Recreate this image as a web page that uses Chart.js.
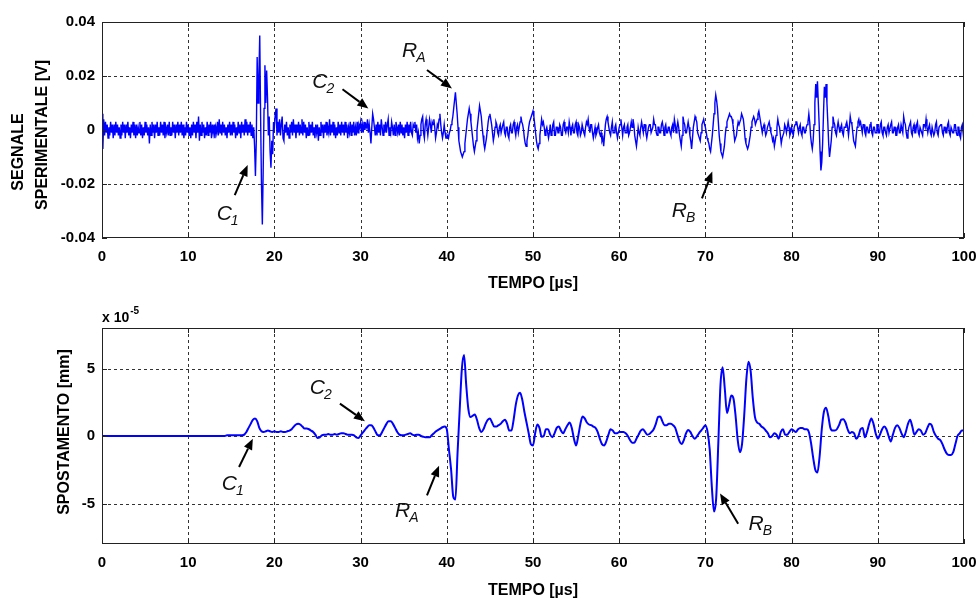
<!DOCTYPE html>
<html><head><meta charset="utf-8">
<script src="https://cdn.jsdelivr.net/npm/chart.js@4.4.1/dist/chart.umd.min.js"></script>
<style>
html,body{margin:0;padding:0;background:#fff;}
#wrap{position:relative;width:976px;height:600px;overflow:hidden;background:#fff;}
.box{position:absolute;left:0;width:976px;height:300px;}
</style></head><body>
<div id="wrap">
<div class="box" style="top:0"><canvas id="c1" width="976" height="300"></canvas></div>
<div class="box" style="top:300px"><canvas id="c2" width="976" height="300"></canvas></div>
</div>
<script>
// ---------------- DATA ----------------
// time axis ticks [µs]
const xTicks = [0,10,20,30,40,50,60,70,80,90,100];
const topYTicks = [-0.04,-0.02,0,0.02,0.04];
const bottomYTicks = [-5,0,5];

const timeStepTop = 0.1;
const signalMv = [
 6,-7,4,-2,3,-1,2,-3,1,-2,
 3,-1,2,-3,2,-2,3,-1,2,-2,
 1,-3,2,-2,3,-1,2,-3,2,-1,
 3,-2,1,-3,2,-1,3,-2,2,-3,
 2,-2,1,-1,3,-2,2,-3,1,-2,
 3,-1,2,-2,1,-5,2,-2,3,-1,
 2,-3,2,-1,3,-2,1,-2,3,-1,
 2,-2,3,-3,1,-1,2,-2,3,-2,
 1,-2,3,-1,2,-3,2,-1,3,-2,
 2,-1,3,-2,2,-3,1,-2,3,-1,
 2,-2,1,-3,2,-2,3,-1,2,-3,
 3,-1,5,-4,2,-2,3,-1,2,-3,
 1,-2,3,-2,2,-1,3,-3,2,-1,
 2,-3,1,-1,3,-2,4,-1,2,-2,
 3,-1,2,-2,1,-3,2,-1,3,-2,
 2,-2,3,-1,2,-3,1,-2,3,-1,
 2,-3,3,-1,2,-2,4,-1,3,-2,
 2,-1,3,-2,2,-3,1,-6,-17,-4,
 27,10,20,35,5,-20,-35,-15,8,24,
 10,22,12,-2,5,-8,-14,-4,-9,3,
 1,6,8,-2,3,-1,4,-2,2,5,
 -3,-4,2,-1,3,-2,1,-3,2,-1,
 3,-2,4,-1,2,-3,2,-1,3,-2,
 2,-1,4,-2,3,-1,2,-3,1,-2,
 3,-2,2,-1,3,-2,1,-3,2,-1,
 2,-4,1,-2,3,-1,2,-3,2,-1,
 3,-2,1,-1,4,-2,2,-1,3,-2,
 2,-3,1,-2,3,-1,2,-2,3,-1,
 2,-2,3,-1,2,-3,1,-1,3,-2,
 2,-1,3,-2,1,-2,3,-1,2,1,
 3,-1,2,-1,3,0,2,1,4,-1,
 2,-1,-5,1,6,4,1,-2,2,-2,
 3,-1,2,-2,4,1,-2,2,-1,3,
 -1,2,4,-2,1,-1,3,1,-2,2,
 -2,3,1,-1,2,-2,3,-1,2,-2,
 1,-3,2,-1,3,-2,2,-1,3,-1,
 -2,2,1,3,-1,2,-3,-1,-5,-2,
 2,4,5,-1,-3,2,4,1,-2,1,
 4,2,-1,3,2,4,1,-3,-1,2,
 1,4,6,2,-1,-3,-1,2,-1,-3,
 -3,-2,-3,-1,0,2,3,5,8,11,
 14,10,6,1,-4,-6,-8,-9,-10,-9,
 -8,-5,-2,1,4,6,8,6,3,0,
 -3,-6,-8,-6,-4,0,3,6,9,7,
 5,1,-2,-5,-7,-5,-3,0,3,5,
 6,4,2,-1,-4,-2,1,3,2,-1,
 -2,1,2,-1,-1,2,3,-1,-2,1,
 1,-2,-3,1,2,-1,-1,2,3,0,
 -2,1,2,-1,1,3,5,3,2,0,
 -3,-5,-6,-4,-2,1,3,4,5,6,
 7,5,2,-1,-4,-6,-7,-5,-2,1,
 4,2,3,1,-2,0,1,-1,-3,-1,
 2,-2,-1,2,3,-2,-2,1,1,-1,
 -1,2,1,-2,-2,2,3,0,-1,1,
 1,-1,3,1,-2,1,2,-1,-1,2,
 3,-1,-2,2,1,-2,-1,2,2,-1,
 -2,1,3,2,4,1,-1,2,2,-1,
 -3,-1,1,-2,-1,1,2,-1,-2,-1,
 -4,-3,-6,-2,2,4,5,3,1,-1,
 -2,1,3,-1,-1,1,2,-1,-3,-1,
 1,2,4,1,-2,1,2,-1,-1,1,
 2,-2,-1,1,3,1,4,2,-2,-4,
 -6,-3,1,-1,-2,1,3,1,-1,2,
 2,-1,-3,-1,1,2,2,-1,-1,1,
 4,2,2,-1,-2,1,1,-1,-1,2,
 3,1,-2,1,2,-1,-1,1,1,-1,
 -2,1,2,-1,4,2,-1,1,3,1,
 -2,-4,-6,-2,5,3,2,-1,-1,1,
 3,1,-2,-4,-7,-3,1,3,5,4,
 3,-1,-2,-3,-4,-1,2,3,4,2,
 1,-1,-3,-4,-5,-7,-8,-5,-2,2,
 6,10,13,11,8,3,-2,-5,-8,-9,
 -10,-8,-6,-2,1,3,4,5,6,5,
 5,4,2,-1,-4,-3,-2,1,3,2,
 2,4,6,5,4,1,-3,-5,-6,-7,
 -6,-4,-2,1,3,4,5,4,2,3,
 4,6,7,5,3,1,-1,1,2,0,
 -2,-1,1,2,3,1,-1,-2,-4,-3,
 -6,-4,-2,1,4,2,1,-2,-5,-3,
 -3,-1,2,1,-1,1,3,1,-2,-1,
 1,-1,-2,1,2,3,3,1,-1,1,
 2,-1,-2,1,1,-1,-1,1,2,3,
 6,3,-2,-5,-7,-4,2,10,17,12,
 18,10,2,-8,-15,-12,-5,6,16,12,
 17,10,3,-5,-10,-7,-4,1,5,3,
 2,-1,-2,1,3,1,-1,1,2,-1,
 -2,1,1,2,3,1,-2,1,5,3,
 2,-1,-4,-5,-6,-2,1,3,4,2,
 3,1,-1,2,2,-1,-2,1,1,-1,
 -1,2,3,-1,-2,1,1,-1,-1,2,
 2,-1,-1,2,3,-1,-2,1,1,-1,
 -2,1,2,-1,-1,2,3,-1,-1,1,
 1,-2,-2,1,2,-1,-1,2,2,-1,
 5,3,2,-1,-3,-1,1,2,3,-1,
 -2,1,2,-1,-1,2,3,-1,-2,1,
 1,-1,-2,2,2,1,4,1,-1,1,
 2,-1,-2,1,1,-2,-1,2,3,-1,
 -2,1,1,2,2,-1,-2,1,1,-1,
 -1,2,3,-1,-2,1,1,-1,-1,2,
 2,-1,-2,1,1,-2,-3,1,2,-1,
 1
];

const timeStepBottom = 0.25;
const displacementE5 = [
 0,0,0,0, 0,0,0,0, 0,0,0,0, 0,0,0,0, 0,0,0,0, 0,0,0,0, 0,0,0,0,
 0,0,0,0, 0,0,0,0, 0,0,0,0, 0,0,0,0, 0,0,0,0, 0,0,0,0, 0,0,0,0,
 0,0,0.05,0.05, 0.05,0.05,0.05,0.05, 0.05,0.05,0.1,0.3, 0.6,0.9,1.2,1.3,
 1.1,0.6,0.35,0.3, 0.35,0.4,0.35,0.3, 0.35,0.3,0.3,0.35, 0.3,0.3,0.35,0.4,
 0.5,0.7,0.85,0.9, 0.85,0.7,0.55,0.55, 0.5,0.4,0.3,0.1, -0.15,-0.1,0.05,0.1,
 0.1,0.15,0.1,0.1, 0.15,0.1,0.15,0.2, 0.2,0.15,0.1,0.1, 0.1,0.05,-0.1,-0.15,
 0.05,0.25,0.45,0.65, 0.8,0.8,0.6,0.3, 0.05,0.05,0.3,0.6, 0.9,1.1,1.1,0.9,
 0.6,0.3,0.1,0.05, 0.05,0.1,0.15,0.2, 0.1,0.05,0.1,0.1, 0,-0.05,-0.1,-0.1,
 -0.1,0.05,0.2,0.35, 0.45,0.55,0.65,0.7, 0.5,-1.0,-2.5,-4.5, -4.7,-1.2,2.0,5.0,
 6.0,3.8,2.0,1.4, 1.5,1.6,1.2,0.6, 0.3,0.5,0.9,1.2, 1.3,1.0,0.7,0.7,
 0.8,0.9,1.1,1.2, 0.9,0.4,0.4,1.2, 2.3,3.0,3.2,2.7, 1.8,1.0,0.2,-0.6,
 -0.7,0.2,0.85,0.6, -0.05,0,0.5,0.5, 0.1,-0.1,0.2,0.6, 0.7,0.4,0.2,0.5,
 0.8,1.0,0.6,-0.2, -0.7,0,0.9,1.45, 1.3,1.0,0.85,0.8, 0.7,0.6,0.3,-0.2,
 -0.6,-0.7,-0.4,0.1, 0.5,0.4,0.2,0.2, 0.3,0.3,0.3,0.2, 0,-0.3,-0.5,-0.5,
 -0.2,0.1,0.4,0.5, 0.3,0.1,0.15,0.3, 0.5,0.9,1.4,1.45, 1.1,0.8,0.8,0.9,
 0.9,0.8,0.6,0.1, -0.4,-0.6,-0.3,0.2, 0.45,0.3,0,-0.2, -0.05,0.2,0.4,0.6,
 0.8,0.3,-1.0,-3.8, -5.6,-4.6,-0.5,3.8, 5.1,3.5,1.7,2.3, 3.0,2.8,1.5,-0.3,
 -1.2,-0.6,1.5,4.2, 5.5,4.8,2.8,1.4, 1.0,0.9,0.7,0.6, 0.4,0.2,-0.1,0,
 0.2,0.1,-0.2,0.3, 0.5,0.1,0.1,0.3, 0.5,0.4,0.3,0.5, 0.6,0.6,0.5,0.5,
 0.3,-0.5,-1.6,-2.5, -2.7,-1.5,0.5,1.8, 2.1,1.5,0.6,0.4, 0.4,0.5,0.8,1.2,
 1.25,1.0,0.5,0.2, 0.3,0.2,-0.2,0, 0.5,0.6,-0.1,0.3, 0.9,1.3,0.9,0.2,
 -0.2,0.1,0.5,0.7, 0.5,0,-0.4,0.1, 0.6,0.8,0.6,0.2, -0.1,0.3,0.9,1.2,
 0.7,0.1,0.3,0.5, 0.4,0.1,0.2,0.6, 0.9,0.8,0.3,0, -0.2,-0.3,-0.6,-1.0,
 -1.3,-1.4,-1.4,-1.2, -0.6,0,0.2,0.4,
 0.4
];

// annotation labels (text, subscript, label anchor and arrow tail/head in data units)
const topNotes = [
 {t:'C', s:'1', tx:13.3, ty:-0.0333, ax:15.4, ay:-0.0241, hx:16.9, hy:-0.0130},
 {t:'C', s:'2', tx:24.4, ty:0.0156, ax:27.9, ay:0.0151, hx:30.9, hy:0.0080},
 {t:'R', s:'A', tx:34.8, ty:0.0272, ax:37.7, ay:0.0222, hx:40.6, hy:0.0154},
 {t:'R', s:'B', tx:66.1, ty:-0.0321, ax:69.6, ay:-0.0253, hx:70.8, hy:-0.0154}
];
const bottomNotes = [
 {t:'C', s:'1', tx:13.9, ty:-4.0, ax:15.9, ay:-2.3, hx:17.5, hy:-0.2},
 {t:'C', s:'2', tx:24.1, ty:3.1, ax:27.6, ay:2.4, hx:30.5, hy:1.1},
 {t:'R', s:'A', tx:34.0, ty:-6.0, ax:37.7, ay:-4.4, hx:39.1, hy:-2.2},
 {t:'R', s:'B', tx:75.0, ty:-6.95, ax:73.8, ay:-6.5, hx:71.7, hy:-4.25}
];

// ---------------- CHARTS ----------------
const FONT = "'Liberation Sans', Arial, Helvetica, sans-serif";
Chart.defaults.font.family = FONT;
Chart.defaults.color = '#000';

const topPoints = signalMv.map((v, i) => ({x: i * timeStepTop, y: v / 1000}));
const bottomPoints = displacementE5.map((v, i) => ({x: i * timeStepBottom, y: v}));

function fixedTicks(values) { return s => { s.ticks = values.map(v => ({value: v})); }; }

function xScale(h, titlePad) {
  return {
    type: 'linear', min: 0, max: 100,
    afterBuildTicks: fixedTicks(xTicks),
    afterFit: s => { s.height = h; s.paddingLeft = 0; s.paddingRight = 0; },
    grid: {display: false, drawTicks: false}, border: {display: false},
    ticks: {autoSkip: false, maxRotation: 0, minRotation: 0, padding: 10,
            font: {size: 15, weight: 'bold'}, callback: v => String(v)},
    title: {display: true, text: 'TEMPO [µs]', font: {size: 16, weight: 'bold', lineHeight: 1.2},
            padding: {top: 0, bottom: titlePad}}
  };
}
function yScale(min, max, ticks, fmt) {
  return {
    type: 'linear', min: min, max: max,
    afterBuildTicks: fixedTicks(ticks),
    afterFit: s => { s.width = 102; s.paddingTop = 0; s.paddingBottom = 0; },
    grid: {display: false, drawTicks: false}, border: {display: false},
    ticks: {padding: 7, font: {size: 15, weight: 'bold'}, callback: fmt}
  };
}

const framePlugin = {
  id: 'frame',
  beforeDatasetsDraw(chart) {
    const {ctx, chartArea: a, scales: {x, y}} = chart;
    ctx.save();
    ctx.strokeStyle = '#333'; ctx.lineWidth = 1; ctx.setLineDash([3, 3]);
    x.ticks.forEach(t => {
      const px = Math.round(x.getPixelForValue(t.value)) + 0.5;
      if (px <= a.left + 1 || px >= a.right - 1) return;
      ctx.beginPath(); ctx.moveTo(px, a.top); ctx.lineTo(px, a.bottom); ctx.stroke();
    });
    y.ticks.forEach(t => {
      const py = Math.round(y.getPixelForValue(t.value)) + 0.5;
      if (py <= a.top + 1 || py >= a.bottom - 1) return;
      ctx.beginPath(); ctx.moveTo(a.left, py); ctx.lineTo(a.right, py); ctx.stroke();
    });
    ctx.restore();
  },
  afterDatasetsDraw(chart, args, opts) {
    const {ctx, chartArea: a, scales: {x, y}} = chart;
    ctx.save();
    ctx.strokeStyle = '#222'; ctx.lineWidth = 1; ctx.setLineDash([]);
    ctx.strokeRect(a.left + 0.5, a.top + 0.5, a.right - a.left - 1, a.bottom - a.top - 1);
    const L = 5;
    ctx.beginPath();
    x.ticks.forEach(t => {
      const px = Math.round(x.getPixelForValue(t.value)) + 0.5;
      ctx.moveTo(px, a.bottom); ctx.lineTo(px, a.bottom - L);
      ctx.moveTo(px, a.top); ctx.lineTo(px, a.top + L);
    });
    y.ticks.forEach(t => {
      const py = Math.round(y.getPixelForValue(t.value)) + 0.5;
      ctx.moveTo(a.left, py); ctx.lineTo(a.left + L, py);
      ctx.moveTo(a.right, py); ctx.lineTo(a.right - L, py);
    });
    ctx.stroke();

    // annotations
    (opts.notes || []).forEach(n => {
      const tx = x.getPixelForValue(n.tx), ty = y.getPixelForValue(n.ty);
      ctx.fillStyle = '#111';
      ctx.font = 'italic 21px ' + FONT;
      ctx.textAlign = 'left'; ctx.textBaseline = 'alphabetic';
      ctx.fillText(n.t, tx, ty);
      const w = ctx.measureText(n.t).width;
      ctx.font = 'italic 14px ' + FONT;
      ctx.fillText(n.s, tx + w - 1, ty + 5);
      const x0 = x.getPixelForValue(n.ax), y0 = y.getPixelForValue(n.ay);
      const x1 = x.getPixelForValue(n.hx), y1 = y.getPixelForValue(n.hy);
      const ang = Math.atan2(y1 - y0, x1 - x0);
      const hl = 11, hw = 4.5;
      const bx = x1 - hl * Math.cos(ang), by = y1 - hl * Math.sin(ang);
      ctx.strokeStyle = '#000'; ctx.lineWidth = 2;
      ctx.beginPath(); ctx.moveTo(x0, y0); ctx.lineTo(bx, by); ctx.stroke();
      ctx.fillStyle = '#000';
      ctx.beginPath();
      ctx.moveTo(x1, y1);
      ctx.lineTo(bx - hw * Math.sin(ang), by + hw * Math.cos(ang));
      ctx.lineTo(bx + hw * Math.sin(ang), by - hw * Math.cos(ang));
      ctx.closePath(); ctx.fill();
    });

    // rotated y titles
    ctx.fillStyle = '#000';
    ctx.font = 'bold 16px ' + FONT;
    ctx.textAlign = 'center'; ctx.textBaseline = 'middle';
    (opts.yTitles || []).forEach(tt => {
      ctx.save();
      ctx.translate(a.left + tt.dx, (a.top + a.bottom) / 2 + tt.dy);
      ctx.rotate(-Math.PI / 2);
      ctx.fillText(tt.text, 0, 0);
      ctx.restore();
    });

    // exponent label
    if (opts.exponent) {
      ctx.textAlign = 'left'; ctx.textBaseline = 'alphabetic';
      ctx.font = 'bold 14px ' + FONT;
      ctx.fillText('x 10', a.left, a.top - 6);
      const w = ctx.measureText('x 10').width;
      ctx.font = 'bold 10px ' + FONT;
      ctx.fillText(opts.exponent, a.left + w + 1, a.top - 14);
    }
    ctx.restore();
  }
};

new Chart(document.getElementById('c1'), {
  type: 'line',
  data: {datasets: [{data: topPoints, borderColor: '#0000ff', borderWidth: 1.4, pointRadius: 0, tension: 0, fill: false}]},
  options: {
    responsive: false, animation: false, events: [],
    layout: {padding: {top: 22, right: 12, left: 0, bottom: 0}},
    plugins: {legend: {display: false}, tooltip: {enabled: false},
      frame: {notes: topNotes, yTitles: [{text: 'SEGNALE', dx: -83, dy: 22}, {text: 'SPERIMENTALE [V]', dx: -59, dy: 5}]}},
    scales: {
      x: xScale(62, 7),
      y: yScale(-0.04, 0.04, topYTicks, v => v === 0 ? '0' : v.toFixed(2))
    }
  },
  plugins: [framePlugin]
});

new Chart(document.getElementById('c2'), {
  type: 'line',
  data: {datasets: [{data: bottomPoints, borderColor: '#0000ff', borderWidth: 2, pointRadius: 0,
                     cubicInterpolationMode: 'monotone', fill: false}]},
  options: {
    responsive: false, animation: false, events: [],
    layout: {padding: {top: 28, right: 12, left: 0, bottom: 0}},
    plugins: {legend: {display: false}, tooltip: {enabled: false},
      frame: {notes: bottomNotes, exponent: '-5', yTitles: [{text: 'SPOSTAMENTO [mm]', dx: -37, dy: -4}]}},
    scales: {
      x: xScale(56, 0),
      y: yScale(-8, 8, bottomYTicks, v => String(v))
    }
  },
  plugins: [framePlugin]
});
</script>
</body></html>
